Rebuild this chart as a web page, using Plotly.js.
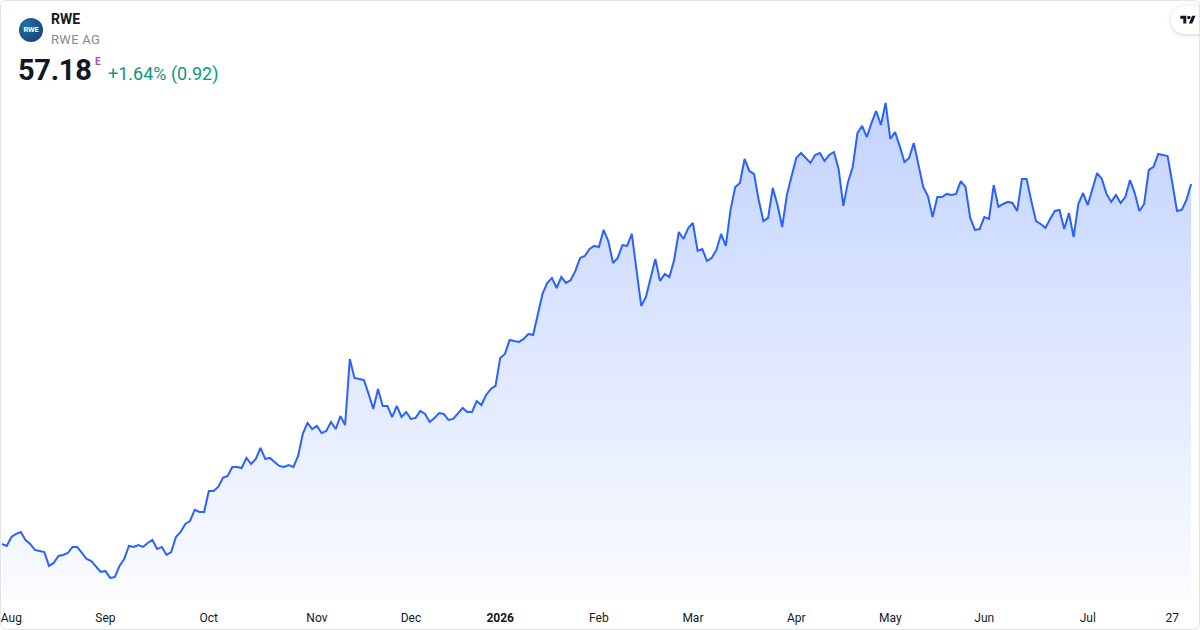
<!DOCTYPE html>
<html>
<head>
<meta charset="utf-8">
<script src="https://cdn.plot.ly/plotly-3.0.1.min.js"></script>
<style>
  html, body { margin:0; padding:0; background:#ffffff; }
  #wrap { position:relative; width:1200px; height:630px; overflow:hidden; font-family: Roboto, "Noto Sans", sans-serif; }
  #chart { position:absolute; left:0; top:0; width:1200px; height:630px; }
  #border { position:absolute; left:0; top:0; width:1200px; height:630px; box-sizing:border-box; border:1px solid #e0e3eb; border-radius:6px; pointer-events:none; }
  .hdr { position:absolute; white-space:nowrap; }
  #logo { position:absolute; left:19px; top:18px; width:24px; height:24px; border-radius:50%;
          background: radial-gradient(circle at 30% 30%, #1f6fa8 0%, #1b4f86 60%, #1a3a70 100%);
          color:#fff; font-size:7.5px; font-weight:700; text-align:center; line-height:24px; letter-spacing:-0.2px; }
  #tv { position:absolute; left:1171px; top:6px; width:44px; height:28px; border-radius:14px; background:#fff;
        box-shadow: 0 1px 5px rgba(0,0,0,0.18); }
  #tv svg { position:absolute; left:9px; top:8px; }
</style>
</head>
<body>
<div id="wrap">
  <div id="chart"></div>
  <div id="logo">RWE</div>
  <div class="hdr" style="left:51px; top:11px; font-size:14px; font-weight:700; color:#131722;">RWE</div>
  <div class="hdr" style="left:51px; top:32px; font-size:13px; color:#868993; letter-spacing:0.3px;">RWE AG</div>
  <div class="hdr" style="left:18px; top:53px; font-size:29px; font-weight:700; color:#131722; letter-spacing:-0.3px;">57.18</div>
  <div class="hdr" style="left:95px; top:56px; font-size:10px; font-weight:700; color:#ab47bc;">E</div>
  <div class="hdr" style="left:108px; top:63px; font-size:18px; color:#089981;">+1.64% (0.92)</div>
  <div id="tv"><svg width="16" height="12" viewBox="0 0 36 28"><path fill="#131722" d="M14 22H7V11H0V4h14v18zM28 22h-8l7.5-18h8L28 22z"/><circle fill="#131722" cx="20" cy="8" r="4"/></svg></div>
  <div id="border"></div>
</div>
<script>
// ---- data ----
const startDate = '2025-07-31';
const holidays = ['2025-12-24','2025-12-25','2025-12-26','2025-12-31','2026-01-01','2026-04-03','2026-04-06','2026-05-01'];

const prices = [
36.48,36.37,36.88,37.06,37.17,36.71,36.48,36.14,36.08,36.02,
35.22,35.39,35.79,35.85,35.96,36.31,36.31,35.96,35.62,35.50,
35.16,34.87,34.93,34.53,34.58,35.22,35.62,36.37,36.31,36.42,
36.31,36.54,36.71,36.19,36.31,35.85,36.02,36.88,37.17,37.63,
37.80,38.44,38.32,38.32,39.53,39.53,39.76,40.28,40.39,40.91,
40.91,40.85,41.43,41.08,41.37,42.00,41.37,41.43,41.20,40.97,
40.91,41.02,40.91,41.54,42.81,43.44,43.09,43.27,42.86,42.98,
43.50,43.09,43.84,43.32,47.12,46.03,45.97,45.91,45.11,44.24,
45.39,44.42,44.42,43.78,44.42,43.78,44.07,43.67,43.73,44.13,
43.96,43.50,43.73,44.01,43.96,43.61,43.67,43.96,44.30,44.07,
44.07,44.70,44.47,45.05,45.39,45.57,47.18,47.41,48.21,48.15,
48.10,48.27,48.56,48.50,49.65,50.86,51.49,51.78,51.20,51.83,
51.49,51.66,52.18,52.93,53.04,53.44,53.62,53.56,54.54,53.90,
52.64,52.93,53.67,53.62,54.31,52.24,50.17,50.68,51.83,52.87,
51.60,52.01,51.83,52.81,54.42,54.02,54.65,54.94,53.33,53.44,
52.75,52.93,53.39,54.31,53.62,55.69,57.01,57.24,58.62,57.93,
57.76,56.26,55.05,55.23,56.95,55.97,54.71,56.55,57.64,58.68,
58.96,58.68,58.39,58.85,58.96,58.50,58.85,59.02,58.04,55.92,
57.30,58.16,60.11,60.52,59.88,60.69,61.38,60.57,61.84,59.77,
60.17,59.37,58.45,58.68,59.54,58.27,57.01,56.49,55.28,56.43,
56.43,56.61,56.55,56.61,57.35,57.01,55.23,54.54,54.59,55.28,
55.17,57.12,55.86,56.03,56.15,56.09,55.63,57.47,57.47,56.20,
55.05,54.88,54.65,55.17,55.63,55.69,54.59,55.51,54.13,56.03,
56.66,55.97,56.89,57.81,57.47,56.61,56.15,56.55,56.09,56.43,
57.41,56.66,55.63,56.03,57.99,58.16,58.91,58.85,58.79,57.24,
55.63,55.69,56.26,57.18
];

// tick positions (the first label sits slightly inside the left edge, as in the reference)
const tickDates = ['2025-08-04','2025-09-01','2025-10-01','2025-11-03','2025-12-01','2026-01-02','2026-02-02','2026-03-02','2026-04-01','2026-05-04','2026-06-01','2026-07-01','2026-07-27'];
const tickLabels = ['Aug','Sep','Oct','Nov','Dec','<b>2026</b>','Feb','Mar','Apr','May','Jun','Jul','27'];

// trading-day calendar (weekdays minus exchange holidays)
const dates = [];
(function(){
  const d = new Date(startDate + 'T12:00:00Z');
  while (dates.length < prices.length) {
    const iso = d.toISOString().slice(0,10);
    const wd = d.getUTCDay();
    if (wd !== 0 && wd !== 6 && holidays.indexOf(iso) < 0) dates.push(iso);
    d.setUTCDate(d.getUTCDate() + 1);
  }
})();

const trace = {
  type: 'scatter',
  mode: 'lines',
  x: dates,
  y: prices,
  line: { color: '#2962ff', width: 2 },
  fill: 'tozeroy',
  fillgradient: {
    type: 'vertical',
    colorscale: [[0, 'rgba(41,98,255,0.02)'], [1, 'rgba(41,98,255,0.28)']],
    start: 33.26,
    stop: 61.9
  },
  hoverinfo: 'skip'
};

const layout = {
  width: 1200,
  height: 630,
  margin: { l: 0, r: 0, t: 0, b: 30 },
  paper_bgcolor: '#ffffff',
  plot_bgcolor: '#ffffff',
  showlegend: false,
  font: { family: 'Roboto, "Noto Sans", sans-serif' },
  xaxis: {
    type: 'category',
    range: [-0.4255, 254.89],
    showgrid: false,
    zeroline: false,
    showline: false,
    ticks: '',
    tickmode: 'array',
    tickvals: tickDates,
    ticktext: tickLabels,
    tickangle: 0,
    ticklabelstandoff: 9,
    tickfont: { size: 12, color: '#131722', family: 'Roboto, "Noto Sans", sans-serif' },
    fixedrange: true
  },
  yaxis: {
    range: [33.26, 67.76],
    visible: false,
    showgrid: false,
    zeroline: false,
    fixedrange: true
  }
};

Plotly.newPlot('chart', [trace], layout, { staticPlot: true, displayModeBar: false });
</script>
</body>
</html>
